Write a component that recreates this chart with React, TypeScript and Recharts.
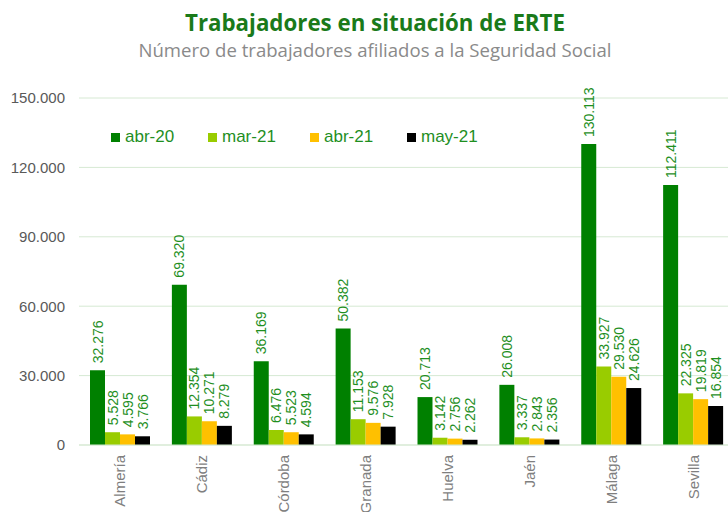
import React from 'react';
import { Bar, BarChart, CartesianGrid, LabelList, XAxis, YAxis } from 'recharts';

const provinces = ['Almería', 'Cádiz', 'Córdoba', 'Granada', 'Huelva', 'Jaén', 'Málaga', 'Sevilla'];
const abr20 = [32276, 69320, 36169, 50382, 20713, 26008, 130113, 112411];
const mar21 = [5528, 12354, 6476, 11153, 3142, 3337, 33927, 22325];
const abr21 = [4595, 10271, 5523, 9576, 2756, 2843, 29530, 19819];
const may21 = [3766, 8279, 4594, 7928, 2262, 2356, 24626, 16854];
const yTicks = [0, 30000, 60000, 90000, 120000, 150000];

const series = [
  { key: 'abr20', name: 'abr-20', color: '#008000' },
  { key: 'mar21', name: 'mar-21', color: '#99cc00' },
  { key: 'abr21', name: 'abr-21', color: '#ffc000' },
  { key: 'may21', name: 'may-21', color: '#000000' },
];

const data = provinces.map((p, i) => ({
  name: p, abr20: abr20[i], mar21: mar21[i], abr21: abr21[i], may21: may21[i]
}));

const FONT = '"Liberation Sans", Arial, sans-serif';
const LABEL_GREEN = '#1f8f1f';

// 32276 -> "32.276"
const fmt = (v: number) => String(v).replace(/\B(?=(\d{3})+(?!\d))/g, '.');

const ValueLabel = (props: any) => {
  const { x, y, width, value } = props;
  return (
    <text
      transform={`translate(${x + width / 2},${y - 7}) rotate(-90)`}
      textAnchor="start" dominantBaseline="central"
      fontSize={14} fill={LABEL_GREEN} fontFamily={FONT}
    >
      {fmt(value)}
    </text>
  );
};

const CategoryTick = (props: any) => {
  const { x, y, payload } = props;
  return (
    <text
      transform={`translate(${x},${y + 2}) rotate(-90)`}
      textAnchor="end" dominantBaseline="central"
      fontSize={15} fill="#7f7f7f" fontFamily={FONT}
    >
      {payload.value}
    </text>
  );
};

const LegendBox = () => (
  <div style={{ position: 'absolute', top: 127, left: 111, display: 'flex', fontFamily: FONT, fontSize: 17, color: LABEL_GREEN }}>
    {series.map((s, i) => (
      <div key={s.key} style={{ display: 'flex', alignItems: 'center', width: i === 1 ? 102 : 97 }}>
        <span style={{ width: 9, height: 9, background: s.color, marginRight: 5, display: 'inline-block' }} />
        <span>{s.name}</span>
      </div>
    ))}
  </div>
);

export default function App() {
  return (
    <div style={{ position: 'absolute', left: 0, top: 0, width: 728, height: 512, overflow: 'hidden', background: '#fff' }}>
      <svg width={728} height={70} style={{ position: 'absolute', left: 0, top: 0 }}>
        <text x={375} y={31} textAnchor="middle" fontSize={24} fontWeight="bold" fill="#1a7a1a"
          fontFamily='"Open Sans", sans-serif' textLength={380} lengthAdjust="spacingAndGlyphs">
          Trabajadores en situación de ERTE
        </text>
        <text x={375} y={57} textAnchor="middle" fontSize={19} fill="#8a8a8a"
          fontFamily='"Open Sans", sans-serif' textLength={473} lengthAdjust="spacingAndGlyphs">
          Número de trabajadores afiliados a la Seguridad Social
        </text>
      </svg>
      <BarChart
        width={734} height={512} data={data}
        margin={{ top: 98, right: 0, bottom: 0, left: 0 }}
        barGap={0} barSize={15}
        style={{ position: 'absolute', left: 0, top: 0 }}
      >
        <CartesianGrid stroke="#d6e9d3" vertical={false} />
        <XAxis dataKey="name" interval={0} tick={<CategoryTick />} tickLine={false}
          axisLine={{ stroke: '#d6e9d3' }} height={67} />
        <YAxis width={79} domain={[0, 150000]} ticks={yTicks} tickFormatter={fmt}
          tickLine={false} axisLine={false} tickSize={0} tickMargin={14}
          tick={{ fontSize: 15, fill: '#595959', fontFamily: FONT }} />
        {series.map(s => (
          <Bar key={s.key} dataKey={s.key} name={s.name} fill={s.color} isAnimationActive={false}>
            <LabelList dataKey={s.key} content={<ValueLabel />} />
          </Bar>
        ))}
      </BarChart>
      <LegendBox />
    </div>
  );
}
